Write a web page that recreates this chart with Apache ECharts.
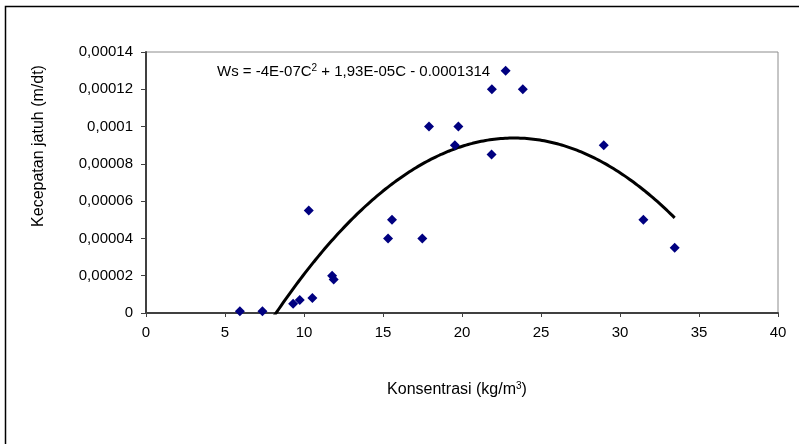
<!DOCTYPE html>
<html>
<head>
<meta charset="utf-8">
<script src="https://cdn.jsdelivr.net/npm/echarts@6/dist/echarts.min.js"></script>
<style>html,body{margin:0;padding:0;background:#fff;}#c{width:799px;height:444px;}</style>
</head>
<body>
<div id="c"></div>
<script>
// Data
const konsentrasi = [5.94, 7.37, 9.31, 9.73, 10.53, 10.3, 11.78, 11.88, 15.32, 15.57, 17.49, 17.91, 19.55, 19.77, 21.87, 21.89, 22.76, 23.85, 28.97, 31.48, 33.46];
const kecepatan  = [0.000001, 0.000001, 0.000005, 0.000007, 0.000008, 0.000055, 0.00002, 0.000018, 0.00004, 0.00005, 0.00004, 0.0001, 0.00009, 0.0001, 0.000085, 0.00012, 0.00013, 0.00012, 0.00009, 0.00005, 0.000035];
const xTickLabels = ['0', '5', '10', '15', '20', '25', '30', '35', '40'];
const yTickLabels = ['0', '0,00002', '0,00004', '0,00006', '0,00008', '0,0001', '0,00012', '0,00014'];
const equationText = 'Ws = -4E-07C{sup|2} + 1,93E-05C - 0.0001314';

// Quadratic least-squares trendline fitted to the points (as the spreadsheet does)
function polyFit2(xs, ys) {
  let S = [0,0,0,0,0], T = [0,0,0];
  for (let i = 0; i < xs.length; i++) {
    let p = 1;
    for (let k = 0; k < 5; k++) { S[k] += p; if (k < 3) T[k] += p * ys[i]; p *= xs[i]; }
  }
  const A = [[S[0],S[1],S[2],T[0]],[S[1],S[2],S[3],T[1]],[S[2],S[3],S[4],T[2]]];
  for (let i = 0; i < 3; i++) {
    for (let j = i + 1; j < 3; j++) {
      const f = A[j][i] / A[i][i];
      for (let k = i; k < 4; k++) A[j][k] -= f * A[i][k];
    }
  }
  const c = [0,0,0];
  for (let i = 2; i >= 0; i--) {
    let s = A[i][3];
    for (let k = i + 1; k < 3; k++) s -= A[i][k] * c[k];
    c[i] = s / A[i][i];
  }
  return c; // c0 + c1 x + c2 x^2
}
const coef = polyFit2(konsentrasi, kecepatan);
const xMin = Math.min(...konsentrasi), xMax = Math.max(...konsentrasi);
const trend = [];
for (let i = 0; i <= 200; i++) {
  const x = xMin + (xMax - xMin) * i / 200;
  trend.push([x, coef[0] + coef[1] * x + coef[2] * x * x]);
}

const FONT = 'Liberation Sans, Arial, sans-serif';
const chart = echarts.init(document.getElementById('c'), null, {renderer: 'canvas'});
chart.setOption({
  animation: false,
  backgroundColor: '#fff',
  grid: {left: 146, right: 21, top: 52, bottom: 131, show: true, borderColor: '#8c8c8c', borderWidth: 1, backgroundColor: 'transparent'},
  xAxis: {
    type: 'value', min: 0, max: 40, interval: 5,
    axisLine: {show: true, onZero: false, lineStyle: {color: '#404040', width: 2}},
    axisTick: {show: true, inside: false, length: 4, lineStyle: {color: '#404040', width: 1}},
    splitLine: {show: false},
    axisLabel: {color: '#000', fontFamily: FONT, fontSize: 15, margin: 12,
      formatter: v => xTickLabels[Math.round(v / 5)]}
  },
  yAxis: {
    type: 'value', min: 0, max: 0.00014, interval: 0.00002,
    axisLine: {show: true, onZero: false, lineStyle: {color: '#404040', width: 2}},
    axisTick: {show: true, inside: false, length: 5, lineStyle: {color: '#404040', width: 1}},
    splitLine: {show: false},
    axisLabel: {color: '#000', fontFamily: FONT, fontSize: 15, margin: 13,
      formatter: v => yTickLabels[Math.round(v / 0.00002)]}
  },
  series: [
    {
      type: 'line', data: trend, showSymbol: false, symbol: 'none', smooth: false, clip: true,
      lineStyle: {color: '#000', width: 3}, z: 2
    },
    {
      type: 'scatter', data: konsentrasi.map((x, i) => [x, kecepatan[i]]),
      symbol: 'diamond', symbolSize: [10, 10],
      itemStyle: {color: '#000080', opacity: 1}, z: 3
    }
  ],
  graphic: [
    {type: 'rect', shape: {x: 5.5, y: 6.5, width: 900, height: 600}, style: {fill: 'none', stroke: '#000', lineWidth: 1.5}, silent: true},
    {type: 'text', x: 39, y: 146, rotation: Math.PI / 2,
      style: {text: 'Kecepatan jatuh (m/dt)', fontFamily: FONT, fontSize: 16, fill: '#000', align: 'center', verticalAlign: 'middle'}},
    {type: 'text', x: 457, y: 390,
      style: {text: 'Konsentrasi (kg/m{sup|3})', fontFamily: FONT, fontSize: 16, fill: '#000', align: 'center', verticalAlign: 'middle',
        rich: {sup: {fontFamily: FONT, fontSize: 10, verticalAlign: 'top', padding: [0,0,7,0], fill: '#000'}}}},
    {type: 'text', x: 217, y: 72,
      style: {text: equationText, fontFamily: FONT, fontSize: 15, fill: '#000', align: 'left', verticalAlign: 'middle',
        rich: {sup: {fontFamily: FONT, fontSize: 10, verticalAlign: 'top', padding: [0,0,7,0], fill: '#000'}}}}
  ]
});
</script>
</body>
</html>
